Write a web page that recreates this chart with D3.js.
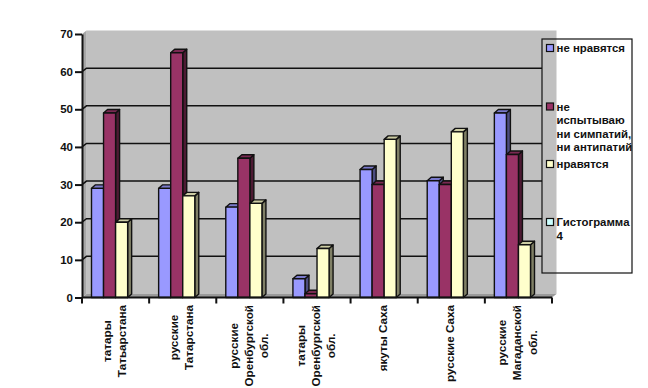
<!DOCTYPE html>
<html>
<head>
<meta charset="utf-8">
<script src="https://cdn.jsdelivr.net/npm/d3@7"></script>
<style>
  html, body { margin: 0; padding: 0; background: #fff; }
  text { font-family: "Liberation Sans", Arial, sans-serif; font-weight: bold; fill: #111; }
</style>
</head>
<body>
<div id="chart"></div>
<script>
// values
const categories = [
  ['татары', 'Татьарстана'],
  ['русские', 'Татарстана'],
  ['русские', 'Оренбургской', 'обл.'],
  ['татары', 'Оренбургской', 'обл.'],
  ['якуты Саха'],
  ['русские Саха'],
  ['русские', 'Магаданской', 'обл.']
];
const dislike = [29, 29, 24, 5, 34, 31, 49];
const neutral = [49, 65, 37, 1, 30, 30, 38];
const like = [20, 27, 25, 13, 42, 44, 14];
const yTicks = [0, 10, 20, 30, 40, 50, 60, 70];

const seriesValues = [dislike, neutral, like];
const seriesFront = ['#9999ff', '#993366', '#ffffcc'];
const seriesTop = ['#7a7acc', '#7a2952', '#cccca3'];
const seriesSide = ['#4d4d80', '#4d1a33', '#808066'];

const legendItems = [
  { lines: ['не нравятся'], color: '#9999ff', y: 48 },
  { lines: ['не', 'испытываю', 'ни симпатий,', 'ни антипатий'], color: '#993366', y: 106.5 },
  { lines: ['нравятся'], color: '#ffffcc', y: 164 },
  { lines: ['Гистограмма', '4'], color: '#ccffff', y: 222 }
];

const WIDTH = 648, HEIGHT = 388;
const AXIS_LEFT = 82, AXIS_RIGHT = 552, AXIS_TOP = 34, AXIS_BOTTOM = 297.5;
const DEPTH_X = 4.5, DEPTH_Y = 3.5;     // offset of the back wall
const BAR_DX = 4, BAR_DY = 3.5;         // depth of one bar
const LEGEND = { x: 542, y: 39, w: 90, h: 234 };
const LINE = '#111';

const svg = d3.select('#chart').append('svg')
  .attr('width', WIDTH)
  .attr('height', HEIGHT)
  .style('display', 'block');

const y = d3.scaleLinear().domain([0, 70]).range([AXIS_BOTTOM, AXIS_TOP]);
const x = d3.scaleBand().domain(d3.range(categories.length)).range([AXIS_LEFT, AXIS_RIGHT]);
const xInner = d3.scaleBand().domain(d3.range(seriesValues.length))
  .range([9.5, x.bandwidth() - 21.5]);

const poly = pts => pts.map(p => p.join(',')).join(' ');

// walls and floor
svg.append('polygon')
  .attr('points', poly([[AXIS_LEFT + DEPTH_X, AXIS_TOP - DEPTH_Y], [AXIS_RIGHT + DEPTH_X, AXIS_TOP - DEPTH_Y],
    [AXIS_RIGHT + DEPTH_X, AXIS_BOTTOM - DEPTH_Y], [AXIS_LEFT + DEPTH_X, AXIS_BOTTOM - DEPTH_Y]]))
  .attr('fill', '#c0c0c0');
svg.append('polygon')
  .attr('points', poly([[AXIS_LEFT, AXIS_TOP], [AXIS_LEFT + DEPTH_X, AXIS_TOP - DEPTH_Y],
    [AXIS_LEFT + DEPTH_X, AXIS_BOTTOM - DEPTH_Y], [AXIS_LEFT, AXIS_BOTTOM]]))
  .attr('fill', '#a6a6a6');
svg.append('polygon')
  .attr('points', poly([[AXIS_LEFT, AXIS_BOTTOM], [AXIS_RIGHT, AXIS_BOTTOM],
    [AXIS_RIGHT + DEPTH_X, AXIS_BOTTOM - DEPTH_Y], [AXIS_LEFT + DEPTH_X, AXIS_BOTTOM - DEPTH_Y]]))
  .attr('fill', '#9a9a9a');

// gridlines stop at the legend box
svg.append('g').selectAll('polyline')
  .data(yTicks.filter(t => t > 0 && t < 70))
  .join('polyline')
  .attr('points', t => poly([[AXIS_LEFT, y(t)], [AXIS_LEFT + DEPTH_X, y(t) - DEPTH_Y], [LEGEND.x, y(t) - DEPTH_Y]]))
  .attr('fill', 'none')
  .attr('stroke', LINE)
  .attr('stroke-width', 1.5);

// bars
const groups = svg.append('g').selectAll('g')
  .data(categories.map((c, i) => i))
  .join('g')
  .attr('transform', i => `translate(${x(i)},0)`);

seriesValues.forEach((values, s) => {
  const bar = groups.append('g')
    .attr('stroke', LINE)
    .attr('stroke-width', 1.4)
    .attr('stroke-linejoin', 'round');
  const left = xInner(s);
  const w = xInner.bandwidth();
  bar.append('polygon')
    .attr('fill', seriesSide[s])
    .attr('points', i => poly([[left + w, y(values[i])], [left + w + BAR_DX, y(values[i]) - BAR_DY],
      [left + w + BAR_DX, y(0) - BAR_DY], [left + w, y(0)]]));
  bar.append('polygon')
    .attr('fill', seriesTop[s])
    .attr('points', i => poly([[left, y(values[i])], [left + BAR_DX, y(values[i]) - BAR_DY],
      [left + w + BAR_DX, y(values[i]) - BAR_DY], [left + w, y(values[i])]]));
  bar.append('rect')
    .attr('fill', seriesFront[s])
    .attr('x', left)
    .attr('width', w)
    .attr('y', i => y(values[i]))
    .attr('height', i => y(0) - y(values[i]));
});

// axes
const yAxis = svg.append('g')
  .attr('transform', `translate(${AXIS_LEFT},0)`)
  .call(d3.axisLeft(y).tickValues(yTicks).tickSize(7).tickSizeOuter(0).tickPadding(2));
yAxis.selectAll('text').style('font-size', '11.5px').attr('fill', '#111');
yAxis.selectAll('line, path').attr('stroke', LINE).attr('stroke-width', 2);

const xEdges = d3.range(categories.length).map(i => x(i)).concat([AXIS_RIGHT]);
const xAxis = svg.append('g').attr('transform', `translate(0,${AXIS_BOTTOM})`);
xAxis.append('line')
  .attr('x1', AXIS_LEFT).attr('x2', AXIS_RIGHT)
  .attr('stroke', LINE).attr('stroke-width', 2);
xAxis.selectAll('line.tick')
  .data(xEdges)
  .join('line')
  .attr('class', 'tick')
  .attr('x1', d => d).attr('x2', d => d)
  .attr('y1', 0).attr('y2', 6)
  .attr('stroke', LINE).attr('stroke-width', 2);

// category labels: rotated, lines centred on each other, block hung under the axis
const LABEL_TOP = 305, LABEL_SIZE = 11.7, LABEL_LINE = 15.2;
categories.forEach((lines, i) => {
  const label = svg.append('text')
    .style('font-size', LABEL_SIZE + 'px')
    .attr('text-anchor', 'middle');
  const spans = label.selectAll('tspan').data(lines).join('tspan').text(d => d);
  const longest = d3.max(spans.nodes(), n => n.getComputedTextLength());
  const cx = x(i) + x.bandwidth() / 2 - 1;
  const cy = LABEL_TOP + longest / 2;
  label.attr('transform', `translate(${cx},${cy}) rotate(-90)`);
  const firstDy = -(lines.length - 1) / 2 * LABEL_LINE + 4;
  spans.attr('x', 0).attr('y', (d, k) => firstDy + k * LABEL_LINE);
});

// legend
svg.append('rect')
  .attr('x', LEGEND.x).attr('y', LEGEND.y)
  .attr('width', LEGEND.w).attr('height', LEGEND.h)
  .attr('fill', 'none')
  .attr('stroke', LINE)
  .attr('stroke-width', 1.2);

const legend = svg.append('g').selectAll('g').data(legendItems).join('g');
legend.append('rect')
  .attr('x', 546.5).attr('y', d => d.y - 3.5)
  .attr('width', 7).attr('height', 7)
  .attr('fill', d => d.color)
  .attr('stroke', LINE)
  .attr('stroke-width', 1.2);
legend.append('text')
  .style('font-size', '11.4px')
  .selectAll('tspan')
  .data(d => d.lines.map((t, k) => ({ t, k, y: d.y })))
  .join('tspan')
  .attr('x', 556.5)
  .attr('y', d => d.y + 4 + d.k * 13.5)
  .text(d => d.t);
</script>
</body>
</html>
